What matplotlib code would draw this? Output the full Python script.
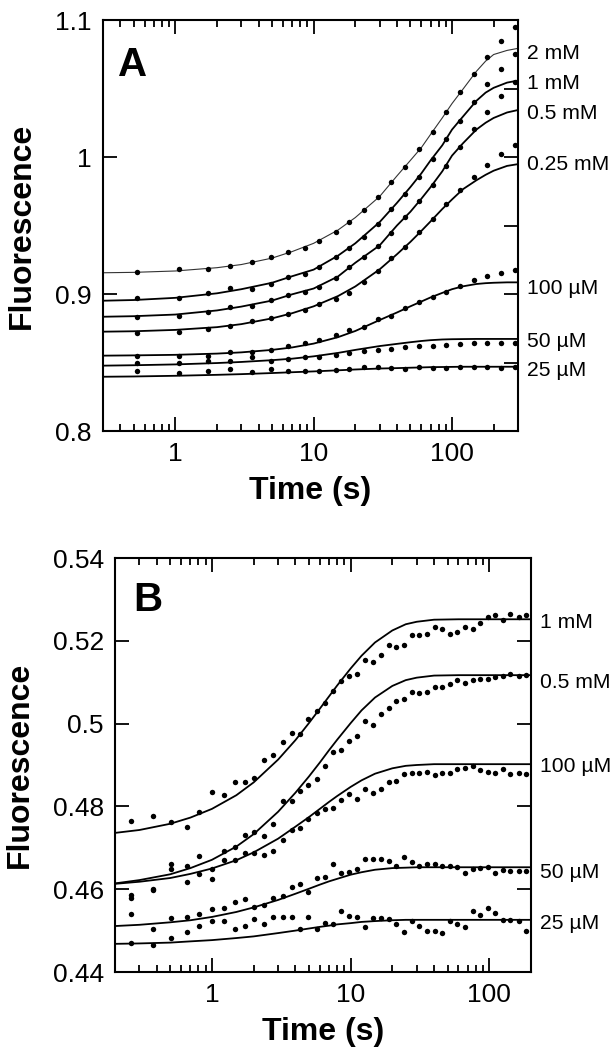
import matplotlib
matplotlib.use("Agg")
import matplotlib.pyplot as plt
import matplotlib.transforms as mtransforms
from matplotlib.ticker import LogLocator, FuncFormatter, MultipleLocator, NullFormatter, NullLocator

plt.rcParams['font.family'] = ['Liberation Sans', 'DejaVu Sans']

# ---------------- panel A data ----------------
a_time = [0.53, 1.07, 1.73, 2.5, 3.6, 4.9, 6.5, 8.7, 11, 14.4, 18, 23, 29, 36, 46, 58,
          73, 91, 114, 144, 178, 225, 284]
a_2mM = [0.9158, 0.9180, 0.9182, 0.9207, 0.9234, 0.9268, 0.9304, 0.9338, 0.9389, 0.9450,
         0.9523, 0.9611, 0.9706, 0.9815, 0.9929, 1.0056, 1.0185, 1.0331, 1.0472, 1.0603,
         1.0732, 1.0849, 1.0951]
a_1mM = [0.8973, 0.8973, 0.9010, 0.9041, 0.9039, 0.9073, 0.9122, 0.9146, 0.9195, 0.9268,
         0.9333, 0.9418, 0.9511, 0.9618, 0.9728, 0.9856, 0.9988, 1.0129, 1.0265, 1.0399,
         1.0535, 1.0642, 1.0752]
a_05mM = [0.8835, 0.8842, 0.8866, 0.8903, 0.8912, 0.8954, 0.8993, 0.9017, 0.9054, 0.9119,
          0.9200, 0.9272, 0.9353, 0.9443, 0.9564, 0.9681, 0.9798, 0.9937, 1.0073, 1.0204,
          1.0326, 1.0445, 1.0547]
a_025mM = [0.8713, 0.8720, 0.8742, 0.8764, 0.8803, 0.8822, 0.8852, 0.8883, 0.8927, 0.8962,
           0.9010, 0.9090, 0.9170, 0.9260, 0.9341, 0.9450, 0.9545, 0.9655, 0.9759, 0.9856,
           0.9942, 1.0019, 1.0088]
a_100uM = [0.8550, 0.8550, 0.8545, 0.8574, 0.8577, 0.8591, 0.8620, 0.8640, 0.8665, 0.8700,
           0.8737, 0.8762, 0.8815, 0.8839, 0.8895, 0.8944, 0.8981, 0.9017, 0.9061, 0.9102,
           0.9131, 0.9151, 0.9175]
a_50uM = [0.8494, 0.8496, 0.8511, 0.8511, 0.8538, 0.8513, 0.8523, 0.8543, 0.8543, 0.8555,
          0.8572, 0.8584, 0.8591, 0.8599, 0.8616, 0.8620, 0.8620, 0.8630, 0.8637, 0.8640,
          0.8640, 0.8640, 0.8640]
a_25uM = [0.8438, 0.8426, 0.8440, 0.8450, 0.8431, 0.8450, 0.8440, 0.8440, 0.8440, 0.8445,
          0.8450, 0.8470, 0.8465, 0.8462, 0.8455, 0.8465, 0.8462, 0.8462, 0.8467, 0.8467,
          0.8467, 0.8462, 0.8467]

# fitted curves
a_fit_time = [0.3, 0.5, 1, 2, 3, 5, 7, 10, 15, 20, 30, 40, 50, 60, 70, 85, 100, 120, 150,
              175, 200, 250, 300]
a_fit_2mM = [0.9155, 0.9158, 0.9168, 0.9192, 0.9215, 0.9262, 0.9310, 0.9370, 0.9467, 0.9558,
             0.9712, 0.9862, 0.9975, 1.0068, 1.0165, 1.0285, 1.0390, 1.0495, 1.0625, 1.0700,
             1.0748, 1.0778, 1.0793]
a_fit_1mM = [0.8951, 0.8956, 0.8972, 0.9005, 0.9035, 0.9082, 0.9130, 0.9178, 0.9280, 0.9370,
             0.9525, 0.9665, 0.9780, 0.9880, 0.9975, 1.0085, 1.0200, 1.0295, 1.0410, 1.0470,
             1.0505, 1.0543, 1.0558]
a_fit_05mM = [0.8834, 0.8838, 0.8850, 0.8880, 0.8908, 0.8952, 0.8998, 0.9040, 0.9128, 0.9228,
              0.9355, 0.9500, 0.9600, 0.9695, 0.9780, 0.9895, 1.0010, 1.0100, 1.0200, 1.0250,
              1.0285, 1.0325, 1.0343]
a_fit_025mM = [0.8725, 0.8728, 0.8738, 0.8758, 0.8780, 0.8822, 0.8860, 0.8910, 0.8985, 0.9055,
               0.9180, 0.9290, 0.9380, 0.9460, 0.9530, 0.9620, 0.9690, 0.9765, 0.9830, 0.9870,
               0.9900, 0.9935, 0.9948]
a_fit_100uM = [0.8550, 0.8552, 0.8556, 0.8565, 0.8574, 0.8592, 0.8610, 0.8638, 0.8685, 0.8730,
               0.8810, 0.8865, 0.8910, 0.8945, 0.8975, 0.9008, 0.9035, 0.9056, 0.9073, 0.9079,
               0.9082, 0.9085, 0.9085]
a_fit_50uM = [0.8477, 0.8480, 0.8486, 0.8496, 0.8504, 0.8517, 0.8528, 0.8545, 0.8570, 0.8592,
              0.8620, 0.8636, 0.8648, 0.8657, 0.8663, 0.8668, 0.8670, 0.8671, 0.8672, 0.8672,
              0.8672, 0.8672, 0.8672]
a_fit_25uM = [0.8396, 0.8398, 0.8403, 0.8410, 0.8415, 0.8423, 0.8429, 0.8435, 0.8443, 0.8449,
              0.8456, 0.8459, 0.8462, 0.8464, 0.8466, 0.8467, 0.8468, 0.8469, 0.8469, 0.8469,
              0.8469, 0.8469, 0.8469]

a_names = ["2 mM", "1 mM", "0.5 mM", "0.25 mM", "100 µM", "50 µM", "25 µM"]

# ---------------- panel B data ----------------
b_time = [0.26, 0.375, 0.51, 0.66, 0.81, 1.0, 1.22, 1.47, 1.73, 2.0, 2.37, 2.75, 3.26, 3.78,
          4.3, 4.96, 5.7, 6.55, 7.44, 8.54, 9.75, 11.2, 12.7, 14.5, 16.5, 18.8, 21.3, 24.3,
          27.7, 31.4, 35.5, 40.3, 45.5, 51.7, 59.0, 67.1, 76.3, 86.1, 97.2, 110, 125, 142,
          163, 185]
b_1mM = [0.4765, 0.4778, 0.4763, 0.4751, 0.4786, 0.4834, 0.4828, 0.4859, 0.4858, 0.4869,
         0.4912, 0.4924, 0.4955, 0.4977, 0.4975, 0.5012, 0.5030, 0.5050, 0.5078, 0.5103,
         0.5116, 0.5120, 0.5153, 0.5149, 0.5166, 0.5190, 0.5184, 0.5191, 0.5213, 0.5213,
         0.5216, 0.5234, 0.5229, 0.5217, 0.5221, 0.5233, 0.5228, 0.5242, 0.5258, 0.5262,
         0.5250, 0.5265, 0.5258, 0.5262]
b_05mM = [0.4586, 0.4601, 0.4660, 0.4656, 0.4679, 0.4650, 0.4693, 0.4703, 0.4731, 0.4737,
          0.4729, 0.4757, 0.4813, 0.4813, 0.4836, 0.4852, 0.4865, 0.4898, 0.4932, 0.4936,
          0.4959, 0.4971, 0.5006, 0.4997, 0.5023, 0.5037, 0.5055, 0.5059, 0.5077, 0.5073,
          0.5077, 0.5089, 0.5088, 0.5095, 0.5105, 0.5097, 0.5105, 0.5108, 0.5108, 0.5113,
          0.5115, 0.5121, 0.5115, 0.5117]
b_100uM = [0.4578, 0.4598, 0.4650, 0.4618, 0.4637, 0.4624, 0.4671, 0.4671, 0.4687, 0.4687,
           0.4683, 0.4693, 0.4719, 0.4743, 0.4747, 0.4770, 0.4785, 0.4793, 0.4795, 0.4815,
           0.4830, 0.4817, 0.4842, 0.4832, 0.4841, 0.4860, 0.4862, 0.4878, 0.4880, 0.4880,
           0.4882, 0.4876, 0.4880, 0.4880, 0.4890, 0.4892, 0.4898, 0.4888, 0.4884, 0.4881,
           0.4890, 0.4878, 0.4880, 0.4878]
b_50uM = [0.4540, 0.4504, 0.4530, 0.4532, 0.4541, 0.4551, 0.4555, 0.4568, 0.4576, 0.4558,
          0.4563, 0.4578, 0.4584, 0.4605, 0.4612, 0.4593, 0.4628, 0.4630, 0.4660, 0.4640,
          0.4641, 0.4650, 0.4673, 0.4672, 0.4672, 0.4667, 0.4656, 0.4677, 0.4665, 0.4656,
          0.4662, 0.4662, 0.4656, 0.4656, 0.4654, 0.4640, 0.4650, 0.4652, 0.4654, 0.4640,
          0.4646, 0.4645, 0.4645, 0.4643]
b_25uM = [0.4469, 0.4465, 0.4481, 0.4497, 0.4510, 0.4522, 0.4522, 0.4504, 0.4512, 0.4527,
          0.4516, 0.4534, 0.4534, 0.4534, 0.4505, 0.4534, 0.4504, 0.4518, 0.4517, 0.4547,
          0.4536, 0.4534, 0.4509, 0.4531, 0.4531, 0.4528, 0.4516, 0.4497, 0.4522, 0.4512,
          0.4500, 0.4500, 0.4493, 0.4522, 0.4516, 0.4509, 0.4548, 0.4538, 0.4554, 0.4542,
          0.4526, 0.4526, 0.4522, 0.4500]

b_fit_time = [0.2, 0.3, 0.5, 0.7, 1, 1.5, 2, 3, 4, 5, 6, 7, 8, 10, 12, 15, 20, 25, 30, 40,
              60, 100, 200]
b_fit_1mM = [0.4736, 0.4743, 0.4758, 0.4773, 0.4794, 0.4827, 0.4858, 0.4913, 0.4960, 0.5001,
             0.5036, 0.5066, 0.5092, 0.5133, 0.5164, 0.5196, 0.5225, 0.5240, 0.5246, 0.5251,
             0.5252, 0.5252, 0.5252]
b_fit_05mM = [0.4614, 0.4622, 0.4636, 0.4651, 0.4671, 0.4703, 0.4733, 0.4787, 0.4833, 0.4872,
              0.4906, 0.4936, 0.4961, 0.5001, 0.5032, 0.5063, 0.5091, 0.5105, 0.5111, 0.5116,
              0.5117, 0.5117, 0.5117]
b_fit_100uM = [0.4613, 0.4618, 0.4627, 0.4637, 0.4650, 0.4670, 0.4689, 0.4722, 0.4751, 0.4774,
               0.4794, 0.4811, 0.4825, 0.4847, 0.4863, 0.4879, 0.4892, 0.4898, 0.4900, 0.4902,
               0.4902, 0.4902, 0.4902]
b_fit_50uM = [0.4511, 0.4514, 0.4520, 0.4525, 0.4533, 0.4545, 0.4556, 0.4574, 0.4589, 0.4601,
              0.4611, 0.4619, 0.4625, 0.4635, 0.4641, 0.4647, 0.4651, 0.4652, 0.4653, 0.4653,
              0.4653, 0.4653, 0.4653]
b_fit_25uM = [0.4468, 0.4469, 0.4471, 0.4474, 0.4477, 0.4482, 0.4486, 0.4494, 0.4500, 0.4505,
              0.4509, 0.4512, 0.4515, 0.4518, 0.4521, 0.4523, 0.4525, 0.4526, 0.4526, 0.4526,
              0.4526, 0.4526, 0.4526]

b_names = ["1 mM", "0.5 mM", "100 µM", "50 µM", "25 µM"]

# label placement (data y of text baseline)
a_label_y = [1.0712, 1.0493, 1.0274, 0.9902, 0.8997, 0.8610, 0.8399]
b_label_y = [0.5232, 0.5087, 0.4882, 0.4628, 0.4505]


def fmt(v, pos):
    return f"{v:g}"


def style_axes(ax, xlim, ylim, ystep, right_step=None):
    ax.set_xscale('log')
    ax.set_xlim(*xlim)
    ax.set_ylim(*ylim)
    ax.xaxis.set_major_locator(LogLocator(base=10))
    ax.xaxis.set_minor_locator(LogLocator(base=10, subs=range(2, 10)))
    ax.xaxis.set_major_formatter(FuncFormatter(fmt))
    ax.xaxis.set_minor_formatter(NullFormatter())
    ax.yaxis.set_major_locator(MultipleLocator(ystep))
    ax.yaxis.set_major_formatter(FuncFormatter(fmt))
    for s in ax.spines.values():
        s.set_linewidth(1.5)
    ax.tick_params(which='both', direction='in', top=True, right=True, width=1.3,
                   labelsize=19, pad=8)
    ax.tick_params(which='major', length=10)
    ax.tick_params(axis='x', which='minor', length=5)
    if right_step:
        ax.yaxis.set_minor_locator(MultipleLocator(right_step))
        ax.tick_params(axis='y', which='minor', left=False, right=True, length=10)
    else:
        ax.yaxis.set_minor_locator(NullLocator())
    ax.set_xlabel("Time (s)", fontsize=23, fontweight='bold', labelpad=7)
    ax.set_ylabel("Fluorescence", fontsize=23, fontweight='bold', labelpad=13)


def draw_panel(ax, t, series, fit_t, fits, names, label_y, letter, letter_pos):
    for i, y in enumerate(fits):
        if i == 0 and letter == "A":
            ax.plot(fit_t, y, '-', color='#333333', lw=0.8)
        else:
            ax.plot(fit_t, y, '-', color='black', lw=1.3)
    for y in series:
        ax.plot(t, y, 'o', color='black', ms=3.9, mew=0, clip_on=False)
    trans = mtransforms.blended_transform_factory(ax.transAxes, ax.transData)
    for name, ly in zip(names, label_y):
        ax.text(1.022, ly, name, transform=trans, fontsize=15.2, ha='left',
                va='baseline', clip_on=False)
    ax.text(letter_pos[0], letter_pos[1], letter, transform=ax.transAxes, fontsize=29,
            fontweight='bold', ha='left', va='baseline')


fig = plt.figure(figsize=(6.11, 10.5), dpi=100)
axA = fig.add_axes([103 / 611, 1 - 431 / 1050, 415 / 611, 411 / 1050])
axB = fig.add_axes([115 / 611, 1 - 972 / 1050, 416 / 611, 414 / 1050])

style_axes(axA, (0.3, 300), (0.8, 1.1), 0.1, right_step=0.05)
style_axes(axB, (0.2, 200), (0.44, 0.54), 0.02)

draw_panel(axA, a_time, [a_2mM, a_1mM, a_05mM, a_025mM, a_100uM, a_50uM, a_25uM],
           a_fit_time, [a_fit_2mM, a_fit_1mM, a_fit_05mM, a_fit_025mM, a_fit_100uM,
                        a_fit_50uM, a_fit_25uM],
           a_names, a_label_y, "A", (0.036, 0.864))
draw_panel(axB, b_time, [b_1mM, b_05mM, b_100uM, b_50uM, b_25uM],
           b_fit_time, [b_fit_1mM, b_fit_05mM, b_fit_100uM, b_fit_50uM, b_fit_25uM],
           b_names, b_label_y, "B", (0.043, 0.873))

fig.savefig("out.png", dpi=100)
